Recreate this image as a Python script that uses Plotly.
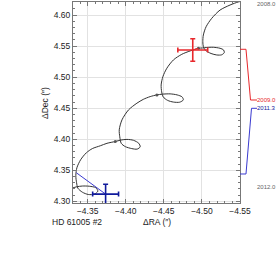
import plotly.graph_objects as go

# Model path (apparent motion) in data coordinates
path_ra = [-4.5513, -4.5478, -4.5369, -4.5238, -4.5129, -4.5055, -4.5019, -4.5012, -4.5019, -4.5048,
           -4.5120, -4.5195, -4.5260, -4.5294, -4.5284, -4.5238, -4.5150, -4.5064, -4.5009, -4.4954,
           -4.4845, -4.4736, -4.4626, -4.4540, -4.4488, -4.4465, -4.4472, -4.4492, -4.4550, -4.4626,
           -4.4708, -4.4756, -4.4740, -4.4675, -4.4583, -4.4478, -4.4409, -4.4321, -4.4230, -4.4147,
           -4.4037, -4.3951, -4.3915, -4.3922, -4.3941, -4.3994, -4.4079, -4.4151, -4.4190, -4.4171,
           -4.4103, -4.4016, -4.3935, -4.3863, -4.3754, -4.3666, -4.3562, -4.3483, -4.3408, -4.3359,
           -4.3345, -4.3355, -4.3372, -4.3431, -4.3509, -4.3588, -4.3634, -4.3607, -4.3522, -4.3431,
           -4.3359, -4.3293]
path_dec = [4.6220, 4.6211, 4.6161, 4.6080, 4.5947, 4.5812, 4.5679, 4.5571, 4.5491, 4.5430,
            4.5381, 4.5357, 4.5360, 4.5397, 4.5438, 4.5465, 4.5481, 4.5478, 4.5470, 4.5465,
            4.5422, 4.5368, 4.5277, 4.5144, 4.5009, 4.4875, 4.4763, 4.4682, 4.4626, 4.4599,
            4.4597, 4.4634, 4.4682, 4.4714, 4.4731, 4.4726, 4.4714, 4.4687, 4.4642, 4.4581,
            4.4473, 4.4313, 4.4152, 4.4040, 4.3935, 4.3882, 4.3850, 4.3842, 4.3879, 4.3935,
            4.3983, 4.3998, 4.3987, 4.3964, 4.3935, 4.3895, 4.3850, 4.3782, 4.3670, 4.3541,
            4.3413, 4.3300, 4.3212, 4.3148, 4.3111, 4.3116, 4.3164, 4.3220, 4.3244, 4.3247,
            4.3236, 4.3212]

# Yearly positions on the path
year_ra = [-4.4954, -4.4409, -4.3863, -4.3293]
year_dec = [4.5465, 4.4714, 4.3964, 4.3212]

# Measurements
obs_epochs = ["2009.0", "2011.3"]
obs_colors = ["#e8282c", "#101a9c"]
obs_ra = [-4.4880, -4.3736]
obs_dec = [4.5437, 4.3117]
obs_ra_err = [0.0196, 0.0170]
obs_dec_err = [0.0182, 0.0160]
model_ra = [-4.4954, -4.3352]
model_dec = [4.5465, 4.3461]
link_colors = ["#e8282c", "#3a3ad0"]

timeline_labels = ["2008.0", "2012.0"]

fig = go.Figure()

fig.add_trace(go.Scatter(x=path_ra, y=path_dec, mode="lines",
                         line=dict(color="#333333", width=1, shape="spline", smoothing=0.8),
                         hoverinfo="skip", showlegend=False))
fig.add_trace(go.Scatter(x=year_ra, y=year_dec, mode="markers",
                         marker=dict(color="#555555", size=3),
                         hoverinfo="skip", showlegend=False))

for i in range(len(obs_ra)):
    fig.add_trace(go.Scatter(x=[model_ra[i], obs_ra[i]], y=[model_dec[i], obs_dec[i]],
                             mode="lines", line=dict(color=link_colors[i], width=1),
                             showlegend=False, hoverinfo="skip"))
    fig.add_trace(go.Scatter(x=[obs_ra[i]], y=[obs_dec[i]], mode="markers",
                             marker=dict(size=1, color=obs_colors[i]),
                             error_x=dict(type="data", array=[obs_ra_err[i]], color=obs_colors[i],
                                          thickness=1.6, width=2.5),
                             error_y=dict(type="data", array=[obs_dec_err[i]], color=obs_colors[i],
                                          thickness=1.6, width=2.5),
                             showlegend=False, hoverinfo="skip"))

L, R, T, B = 73, 37, 2, 66
W, H = 277, 269
pw, ph = W - L - R, H - T - B

def px(x):
    return (x - L) / pw

def py(y):
    return (H - B - y) / ph

# timeline leader lines
leaders = [
    ([240, 246, 250.5, 257], [49.3, 49.3, 100, 100], obs_colors[0]),
    ([240, 246, 251.5, 257], [174, 174, 108.3, 108.3], "#3a3ad0"),
]
shapes = []
for xs, ys, col in leaders:
    path = "M " + " L ".join(f"{px(a):.4f},{py(b):.4f}" for a, b in zip(xs, ys))
    shapes.append(dict(type="path", xref="paper", yref="paper", path=path,
                       line=dict(color=col, width=1)))

font = "Liberation Sans, Arial, sans-serif"
ann = []
lab_x = 255.5
ann.append(dict(text=timeline_labels[0], x=px(lab_x), y=py(3.5), xref="paper", yref="paper",
                xanchor="left", yanchor="middle", showarrow=False, borderpad=0,
                font=dict(size=6, color="#666666", family=font)))
ann.append(dict(text=timeline_labels[1], x=px(lab_x), y=py(187.3), xref="paper", yref="paper",
                xanchor="left", yanchor="middle", showarrow=False, borderpad=0,
                font=dict(size=6, color="#666666", family=font)))
ann.append(dict(text=obs_epochs[0], x=px(lab_x + 0.5), y=py(100), xref="paper", yref="paper",
                xanchor="left", yanchor="middle", showarrow=False, borderpad=0,
                font=dict(size=6, color=obs_colors[0], family=font)))
ann.append(dict(text=obs_epochs[1], x=px(lab_x + 0.5), y=py(108.3), xref="paper", yref="paper",
                xanchor="left", yanchor="middle", showarrow=False, borderpad=0,
                font=dict(size=6, color=obs_colors[1], family=font)))
ann.append(dict(text="ΔRA (″)", x=px(157), y=py(222), xref="paper", yref="paper",
                xanchor="center", yanchor="middle", showarrow=False,
                font=dict(size=8.5, color="#222222", family=font)))
ann.append(dict(text="HD 61005 #2", x=px(50), y=py(222), xref="paper", yref="paper",
                xanchor="left", yanchor="middle", showarrow=False,
                font=dict(size=8.5, color="#222222", family=font)))
ann.append(dict(text="ΔDec (″)", x=px(45), y=py(103), xref="paper", yref="paper",
                xanchor="center", yanchor="middle", showarrow=False, textangle=-90,
                font=dict(size=8.5, color="#222222", family=font)))

axis_common = dict(showline=True, linecolor="#777777", linewidth=1, mirror="ticks",
                   ticks="inside", ticklen=4, tickcolor="#777777", tickwidth=1,
                   showgrid=True, gridcolor="#e2e2e2", gridwidth=1, zeroline=False,
                   tickfont=dict(size=8.5, color="#222222", family=font))

fig.update_layout(
    width=W, height=H,
    margin=dict(l=L, r=R, t=T, b=B, pad=0),
    paper_bgcolor="white", plot_bgcolor="white",
    xaxis=dict(range=[-4.3308, -4.55], tickvals=[-4.35, -4.40, -4.45, -4.50, -4.55],
               tickformat=".2f",
               minor=dict(dtick=0.01, ticks="inside", ticklen=2, tickcolor="#777777", showgrid=False),
               **axis_common),
    yaxis=dict(range=[4.2974, 4.621], tickvals=[4.30, 4.35, 4.40, 4.45, 4.50, 4.55, 4.60],
               tickformat=".2f",
               minor=dict(dtick=0.01, ticks="inside", ticklen=2, tickcolor="#777777", showgrid=False),
               **axis_common),
    shapes=shapes,
    annotations=ann,
    showlegend=False,
)

fig.write_html("out.html",
               config={"displayModeBar": False},
               post_script="document.body.style.margin='0';document.body.style.padding='0';"
                           "document.documentElement.style.overflow='hidden';")
